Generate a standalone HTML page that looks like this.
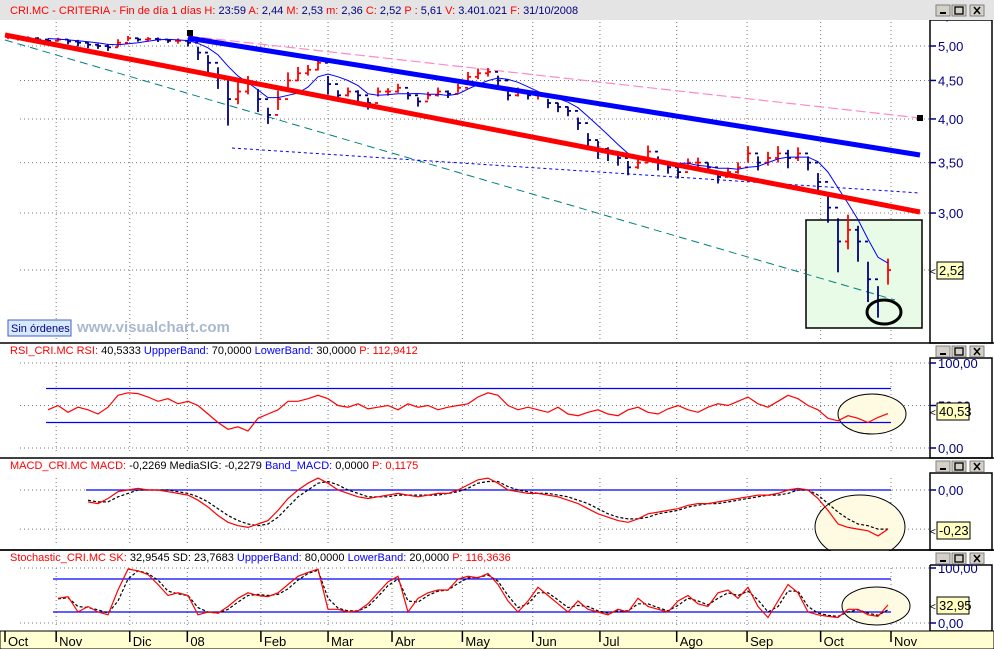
<!DOCTYPE html>
<html><head><meta charset="utf-8">
<style>
html,body{margin:0;padding:0;background:#fff;width:994px;height:649px;overflow:hidden}
svg{display:block;font-family:"Liberation Sans",sans-serif}
</style></head><body>
<svg id="c" width="994" height="649" viewBox="0 0 994 649"></svg>
<script>
const monthLabels = ["Oct","Nov","Dic","08","Feb","Mar","Abr","May","Jun","Jul","Ago","Sep","Oct","Nov"];
const monthDays = [0,16,39,57,80,101,121,143,165,186,210,232,255,277];
const closes = [5.15,5.13,5.12,5.1,5.08,5.1,5.07,5.05,5.02,5.0,4.98,5.05,5.12,5.1,5.11,5.1,5.08,5.08,5.05,4.9,4.75,4.55,4.25,4.35,4.45,4.25,4.05,4.25,4.5,4.6,4.65,4.75,4.45,4.3,4.35,4.3,4.2,4.35,4.35,4.4,4.3,4.22,4.3,4.35,4.32,4.4,4.55,4.6,4.62,4.5,4.3,4.35,4.3,4.3,4.2,4.15,4.1,3.95,3.75,3.65,3.6,3.55,3.45,3.5,3.62,3.5,3.45,3.4,3.5,3.5,3.45,3.35,3.4,3.45,3.6,3.5,3.55,3.6,3.55,3.6,3.5,3.3,3.05,2.75,2.85,2.75,2.45,2.3,2.52];
const ranges = [0.08,0.08,0.06,0.08,0.07,0.06,0.08,0.1,0.1,0.08,0.1,0.12,0.08,0.06,0.06,0.07,0.06,0.08,0.1,0.2,0.25,0.3,0.6,0.3,0.25,0.3,0.2,0.25,0.25,0.2,0.15,0.2,0.25,0.15,0.12,0.15,0.15,0.12,0.1,0.12,0.1,0.12,0.1,0.12,0.1,0.12,0.15,0.15,0.12,0.15,0.12,0.12,0.1,0.1,0.12,0.12,0.12,0.15,0.18,0.2,0.15,0.15,0.15,0.12,0.15,0.15,0.12,0.12,0.1,0.12,0.1,0.12,0.1,0.12,0.18,0.15,0.15,0.18,0.2,0.15,0.15,0.2,0.25,0.45,0.3,0.3,0.3,0.22,0.2];
const rsiStart = 4;
const rsiValues = [45,50,42,48,45,40,48,62,65,64,60,55,58,52,55,50,40,30,22,25,20,35,40,45,55,55,58,62,58,50,48,52,46,48,50,45,52,48,50,45,48,50,52,60,65,62,50,45,48,45,42,48,40,38,42,45,40,38,45,48,42,40,46,50,45,42,48,52,50,55,60,52,48,55,62,58,50,45,35,32,38,35,30,36,40.5];
const macdStart = 8;
const macdValues = [-0.07,-0.08,-0.05,-0.01,0.0,0.01,0.0,0.0,-0.01,-0.02,-0.03,-0.06,-0.1,-0.15,-0.19,-0.21,-0.22,-0.2,-0.18,-0.12,-0.05,0.0,0.04,0.07,0.04,0.0,-0.02,-0.04,-0.05,-0.04,-0.03,-0.02,-0.03,-0.04,-0.03,-0.02,-0.02,0.0,0.03,0.06,0.07,0.04,0.0,-0.01,-0.02,-0.02,-0.03,-0.04,-0.06,-0.08,-0.11,-0.14,-0.16,-0.18,-0.19,-0.17,-0.14,-0.13,-0.12,-0.11,-0.09,-0.08,-0.08,-0.07,-0.06,-0.05,-0.04,-0.03,-0.03,-0.02,0.0,0.01,0.0,-0.05,-0.12,-0.2,-0.22,-0.23,-0.24,-0.27,-0.23];
const signalValues = [-0.06,-0.07,-0.07,-0.04,-0.02,0.0,0.0,0.0,0.0,-0.01,-0.02,-0.04,-0.07,-0.11,-0.15,-0.18,-0.2,-0.21,-0.2,-0.16,-0.1,-0.04,0.0,0.04,0.05,0.03,0.0,-0.02,-0.04,-0.04,-0.04,-0.03,-0.03,-0.03,-0.03,-0.03,-0.02,-0.01,0.01,0.04,0.05,0.05,0.02,0.0,-0.01,-0.02,-0.02,-0.03,-0.04,-0.06,-0.08,-0.11,-0.14,-0.16,-0.17,-0.17,-0.16,-0.14,-0.13,-0.12,-0.1,-0.09,-0.08,-0.08,-0.07,-0.06,-0.05,-0.04,-0.03,-0.03,-0.02,0.0,0.0,-0.03,-0.08,-0.13,-0.17,-0.2,-0.21,-0.23,-0.23];
const stochStart = 5;
const skValues = [45,48,20,30,20,15,60,98,95,88,70,50,55,50,15,20,18,30,45,55,50,48,55,70,85,92,98,25,25,20,22,35,55,75,85,20,45,55,60,60,80,85,82,90,70,40,20,40,65,50,35,20,40,25,20,15,25,20,45,30,25,20,40,50,35,30,55,60,45,65,30,10,40,70,55,20,15,12,10,25,25,15,12,33];
const sdValues = [44,46,30,28,24,18,40,80,95,90,78,58,53,50,28,20,18,25,38,50,52,50,52,62,78,90,96,45,27,22,22,30,48,68,80,40,38,50,58,60,72,82,83,87,76,50,28,35,55,55,42,28,32,30,22,18,22,22,35,35,28,22,32,45,40,33,45,55,50,58,42,20,30,58,58,30,18,14,12,20,24,18,14,24];

const xOf = i => 8 + i * 10;
const xDay = d => 5 + d * (886 / 277);
const yPrice = v => 46 + (Math.log(5) - Math.log(v)) * 327;
const yRsi = v => 448 - v * 0.85;
const yMacd = v => 490 - v * 170;
const yStoch = v => 623 - v * 0.55;

const NS = "http://www.w3.org/2000/svg";
const svg = document.getElementById("c");
function mk(tag, attrs, parent, text) {
  const e = document.createElementNS(NS, tag);
  for (const k in attrs) e.setAttribute(k, attrs[k]);
  if (text !== undefined) e.textContent = text;
  (parent || svg).appendChild(e);
  return e;
}

const hdr = mk("rect", {x:0,y:0,width:994,height:20,fill:"#e4e4e4"});


mk("line", {x1:0,y1:343,x2:994,y2:343,stroke:"#000","stroke-width":1.5});
mk("line", {x1:0,y1:458,x2:994,y2:458,stroke:"#000","stroke-width":1.5});
mk("line", {x1:0,y1:550,x2:994,y2:550,stroke:"#000","stroke-width":1.5});
[[20,343],[358,458],[473,550],[565,631]].forEach(([a,b]) => {
  mk("rect", {x:930,y:a,width:62,height:b-a,fill:"none",stroke:"#000","stroke-width":1.5});
});
const dax = mk("rect", {x:0,y:631,width:994,height:18,fill:"#ffffd2",stroke:"#000","stroke-width":1});



function winButtons(y, name) {
  const g = mk("g", {});
  
  
  [936,952,970].forEach((x, k) => {
    mk("rect", {x:x,y:y,width:14,height:11,fill:"#d4d0c8",stroke:"#808080"}, g);
    if (k === 0) mk("line", {x1:x+4,y1:y+8,x2:x+10,y2:y+8,stroke:"#000","stroke-width":2}, g);
    if (k === 1) mk("rect", {x:x+3,y:y+2,width:8,height:7,fill:"none",stroke:"#000","stroke-width":1.3}, g);
    if (k === 2) { mk("line",{x1:x+4,y1:y+2,x2:x+10,y2:y+9,stroke:"#000","stroke-width":1.5},g); mk("line",{x1:x+10,y1:y+2,x2:x+4,y2:y+9,stroke:"#000","stroke-width":1.5},g); }
  });
}
winButtons(346, "rsi-window-buttons");
winButtons(461, "macd-window-buttons");

const panels = [[22,342],[362,452],[478,546],[568,628]];
monthDays.forEach((d, k) => {
  if (k === 0) return;
  const x = xDay(d);
  panels.forEach(([a,b]) => mk("line", {x1:x,y1:a,x2:x,y2:b,stroke:"#777","stroke-dasharray":"1,3"}));
});
function hgrid(y) { mk("line", {x1:20,y1:y,x2:930,y2:y,stroke:"#777","stroke-dasharray":"1,3"}); }
function axisLabel(y, txt, name) {
  mk("line", {x1:930,y1:y,x2:936,y2:y,stroke:"#000080","stroke-width":1.5});
  const t = mk("text", {x:938,y:y+5,fill:"#000080","font-size":13}, svg, txt);
  
  
}
const priceTicks = [5.5,5,4.5,4,3.5,3];
const priceTickLabels = ["5,50","5,00","4,50","4,00","3,50","3,00"];
priceTicks.forEach((v,k) => { const y = yPrice(v); if (y > 22) hgrid(y); axisLabel(y, priceTickLabels[k], "price-tick-label"); });
hgrid(yPrice(2.52));
mk("rect", {x:0,y:0,width:994,height:20,fill:"#e4e4e4"});
winButtons(5, "price-window-buttons");
[[100,"100,00"],[50,"50,00"],[0,"0,00"]].forEach(([v,t]) => { hgrid(yRsi(v)); axisLabel(yRsi(v), t, "rsi-tick-label"); });
[[0,"0,00"],[-0.23,""]].forEach(([v,t]) => { hgrid(yMacd(v)); if (t) axisLabel(yMacd(v), t, "macd-tick-label"); });
[[100,"100,00"],[0,"0,00"]].forEach(([v,t]) => { hgrid(yStoch(v)); axisLabel(yStoch(v), t, "stoch-tick-label"); });

monthDays.forEach((d,k) => {
  const x = xDay(d);
  mk("line", {x1:x,y1:631,x2:x,y2:642,stroke:"#000","stroke-width":1.5});
  const t = mk("text", {x:x+3,y:646,"font-size":13,fill:"#000"}, svg, monthLabels[k]);
  
  
});

const box = mk("rect", {x:806,y:220,width:116,height:108,fill:"#e8fbe6",stroke:"#000","stroke-width":1.5});



function tline(x1,y1,x2,y2,col,w,dash,name) {
  const l = mk("line", {x1:x1,y1:y1,x2:x2,y2:y2,stroke:col,"stroke-width":w});
  if (dash) l.setAttribute("stroke-dasharray", dash);
  
  
}
tline(5,40,895,300,"#008080",1,"8,5","teal-support-line");
tline(188,36,920,118,"#ff88c8",1.2,"10,4","pink-resistance-line");
tline(232,148,920,193,"#0000ff",1,"3,3","blue-dashed-line");

closes.forEach((c,i) => {
  const up = i === 0 || c >= closes[i-1];
  const col = up ? "#ff0000" : "#000080";
  const hi = c + ranges[i] * 0.45, lo = c - ranges[i] * 0.55;
  const x = xOf(i);
  const g = mk("g", {stroke:col,"stroke-width":1.8});
  
  
  mk("line", {x1:x,y1:yPrice(hi),x2:x,y2:yPrice(lo)}, g);
  mk("line", {x1:x,y1:yPrice(c),x2:x+3,y2:yPrice(c)}, g);
  mk("line", {x1:x-3,y1:yPrice(closes[Math.max(0,i-1)]),x2:x,y2:yPrice(closes[Math.max(0,i-1)])}, g);
});
let ma = "";
closes.forEach((c,i) => {
  if (i < 4) return;
  let s = 0; for (let k=i-4;k<=i;k++) s += closes[k];
  ma += (ma ? "L" : "M") + xOf(i) + "," + yPrice(s/5).toFixed(1);
});
const maP = mk("path", {d:ma,fill:"none",stroke:"#0000ff","stroke-width":1});



tline(5,35,920,212,"#ff0000",5,null,"red-trend-line");
tline(188,38,920,155,"#0000ff",5,null,"blue-trend-line");
mk("rect", {x:187,y:30,width:6,height:6,fill:"#000"});
mk("rect", {x:917,y:115,width:6,height:6,fill:"#000"});
const circ = mk("ellipse", {cx:884,cy:312,rx:17,ry:12,fill:"none",stroke:"#000","stroke-width":3});



const so = mk("g", {});


mk("rect", {x:8,y:320,width:63,height:16,fill:"#d8e8ff",stroke:"#4060c0"}, so);
mk("text", {x:11,y:332,"font-size":11,fill:"#000080"}, so, "Sin órdenes");
const wm = mk("text", {x:77,y:332,"font-size":15,"font-weight":"bold",fill:"#a8b8d0"}, svg, "www.visualchart.com");



function series(vals, start, yf, col, dash, name) {
  let d = "";
  vals.forEach((v,k) => { d += (d ? "L" : "M") + xOf(start+k) + "," + yf(v).toFixed(1); });
  const p = mk("path", {d:d,fill:"none",stroke:col,"stroke-width":1.2});
  if (dash) p.setAttribute("stroke-dasharray", dash);
  
  
}
function band(y, x1, name) {
  const l = mk("line", {x1:x1,y1:y,x2:891,y2:y,stroke:"#0000ff","stroke-width":1.2});
  
  
}
function ell(cx,cy,rx,ry,name) {
  const e = mk("ellipse", {cx:cx,cy:cy,rx:rx,ry:ry,fill:"#fffbe2",stroke:"#000","stroke-width":1});
  
  
}
function valueBox(x,y,w,txt,name) {
  mk("text", {x:930,y:y+13,"font-size":10,fill:"#000"}, svg, "<");
  const g = mk("g", {});
  
  
  mk("rect", {x:x,y:y,width:w,height:17,fill:"#ffffc0",stroke:"#000"}, g);
  mk("text", {x:x+2,y:y+13,"font-size":13,fill:"#000"}, g, txt);
}
function title(y, parts, name, fs) {
  const t = mk("text", {x:10,y:y,"font-size":fs||11});
  
  
  parts.forEach(([s,c]) => mk("tspan", {fill:c}, t, s));
}

title(14, [["CRI.MC - CRITERIA - Fin de día 1 días  ","#ff0000"],["H: ","#ff0000"],["23:59  ","#000080"],["A: ","#ff0000"],["2,44  ","#000080"],["M: ","#ff0000"],["2,53  ","#000080"],["m: ","#ff0000"],["2,36  ","#000080"],["C: ","#ff0000"],["2,52  ","#000080"],["P : ","#ff0000"],["5,61  ","#000080"],["V: ","#ff0000"],["3.401.021  ","#000080"],["F: ","#ff0000"],["31/10/2008","#000080"]], "price-title", 11);
valueBox(937,262,26,"2,52","last-price-label");

ell(872,414,34,20,"rsi-highlight-ellipse");
band(yRsi(70),46,"rsi-upper-band");
band(yRsi(30),46,"rsi-lower-band");
series(rsiValues, rsiStart, yRsi, "#ff0000", null, "rsi-line");
title(354, [["RSI_CRI.MC  RSI: ","#ff0000"],["40,5333  ","#000"],["UppperBand: ","#0000ff"],["70,0000  ","#000"],["LowerBand: ","#0000ff"],["30,0000  ","#000"],["P: 112,9412","#ff0000"]], "rsi-title");
valueBox(937,403,32,"40,53","rsi-value-label");

ell(860,527,45,32,"macd-highlight-ellipse");
mk("rect", {x:0,y:551,width:930,height:14,fill:"#fff"});
mk("line", {x1:0,y1:550,x2:994,y2:550,stroke:"#000","stroke-width":1.5});
band(yMacd(0),86,"macd-zero-band");
series(signalValues, macdStart, yMacd, "#000", "3,2", "macd-signal-line");
series(macdValues, macdStart, yMacd, "#ff0000", null, "macd-line");
title(469, [["MACD_CRI.MC  MACD: ","#ff0000"],["-0,2269  ","#000"],["MediaSIG: -0,2279  ","#000"],["Band_MACD: ","#0000ff"],["0,0000  ","#000"],["P: 0,1175","#ff0000"]], "macd-title");
valueBox(937,522,33,"-0,23","macd-value-label");
winButtons(553, "stoch-window-buttons");

ell(876,606,34,19,"stoch-highlight-ellipse");
band(yStoch(80),53,"stoch-upper-band");
band(yStoch(20),53,"stoch-lower-band");
series(sdValues, stochStart, yStoch, "#000", "3,2", "stoch-sd-line");
series(skValues, stochStart, yStoch, "#ff0000", null, "stoch-sk-line");
title(561, [["Stochastic_CRI.MC  SK: ","#ff0000"],["32,9545  ","#000"],["SD: 23,7683  ","#000"],["UppperBand: ","#0000ff"],["80,0000  ","#000"],["LowerBand: ","#0000ff"],["20,0000  ","#000"],["P: 116,3636","#ff0000"]], "stoch-title");
valueBox(937,597,32,"32,95","stoch-value-label");
</script>
</body></html>
